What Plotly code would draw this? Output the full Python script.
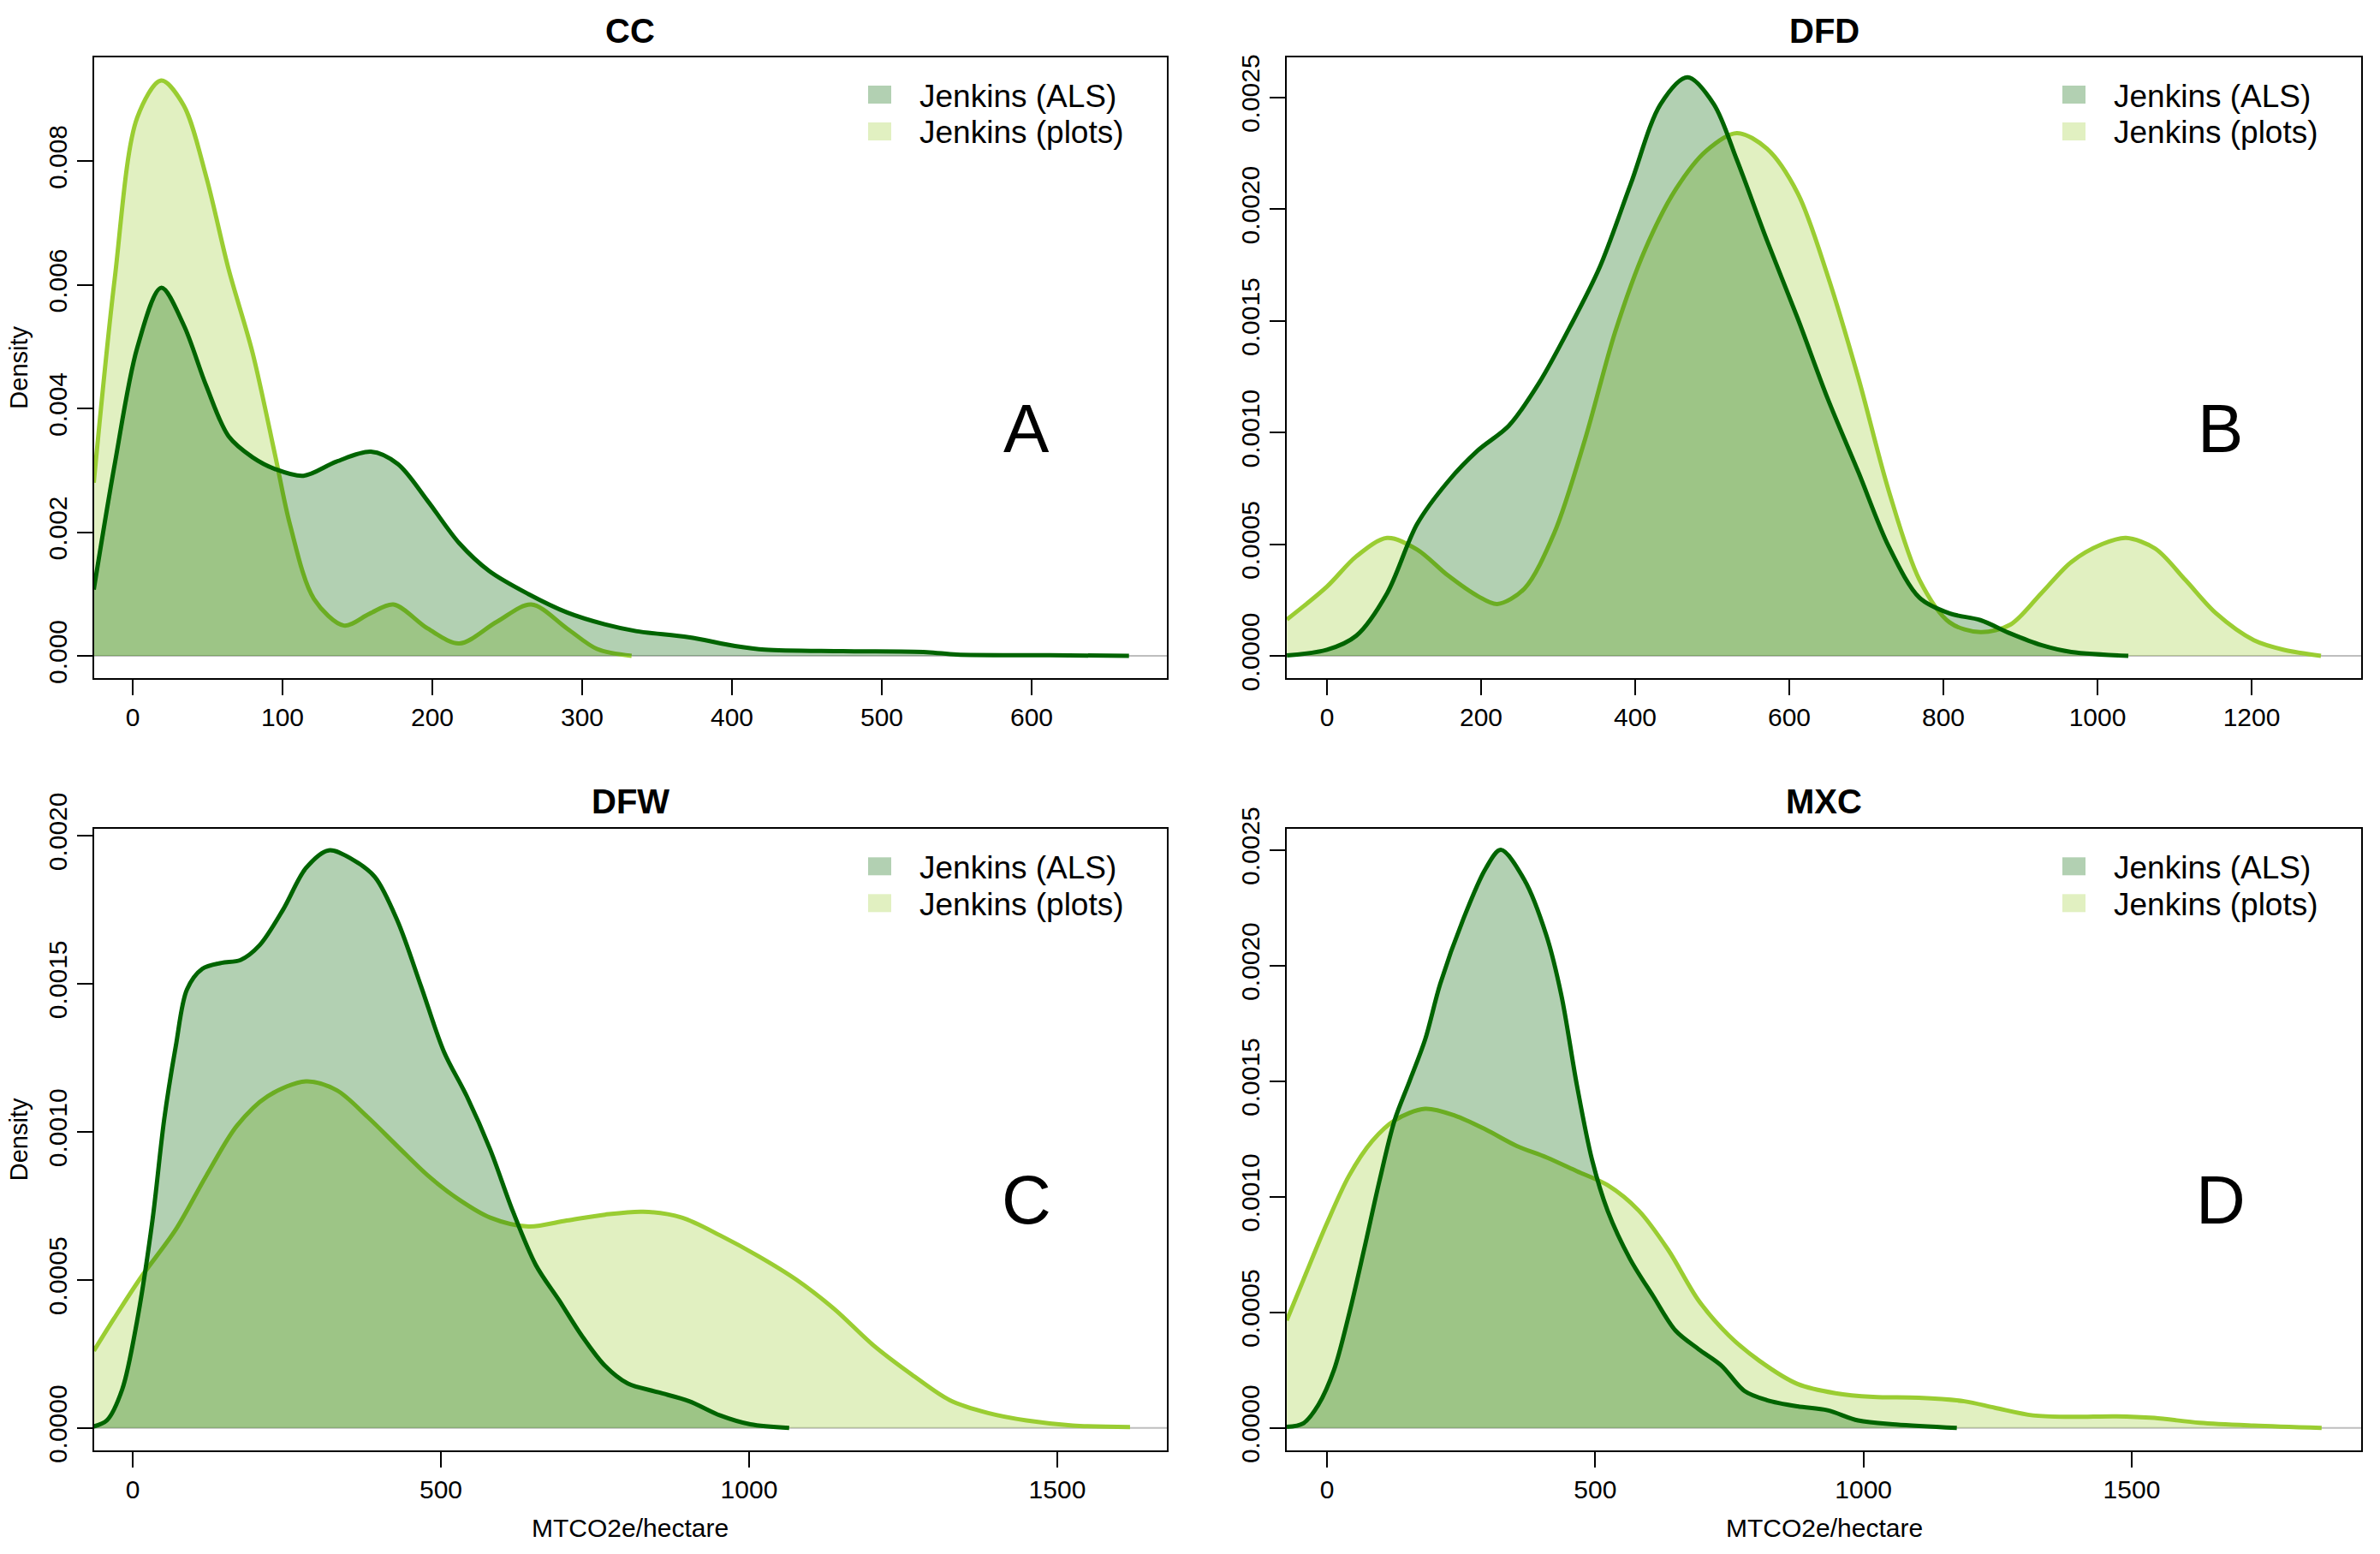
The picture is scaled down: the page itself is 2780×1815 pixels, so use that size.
import plotly.graph_objects as go

W, H = 2780, 1815

# ---------------- data ----------------
panel_titles = ["CC", "DFD", "DFW", "MXC"]
panel_letters = ["A", "B", "C", "D"]
series_names = ["Jenkins (ALS)", "Jenkins (plots)"]

# CC
cc_plots_x = [-26, -12, 3, 19, 34, 49, 64, 80, 95, 105, 121, 141, 158, 174, 197, 218, 243, 266, 290, 310, 333]
cc_plots_y = [0.0028, 0.0061, 0.0087, 0.0093, 0.0089, 0.00775, 0.00625, 0.0049, 0.00325, 0.00212, 0.00092,
              0.00049, 0.00068, 0.00083, 0.00044, 0.0002, 0.00055, 0.00083, 0.00044, 0.00011, 0.0]
cc_als_x = [-26, -12, 3, 19, 34, 49, 64, 80, 95, 114, 136, 159, 177, 197, 218, 238, 264, 290, 315, 336,
            371, 402, 422, 474, 530, 550, 612, 665]
cc_als_y = [0.00107, 0.0031, 0.00498, 0.00595, 0.00535, 0.00437, 0.00355, 0.00321, 0.00302, 0.00291,
            0.00314, 0.0033, 0.0031, 0.0025, 0.00182, 0.00137, 0.001, 0.0007, 0.00051, 0.0004,
            0.0003, 0.00016, 0.0001, 0.000075, 0.00006, 0.00002, 0.00001, 0.0]

# DFD
dfd_plots_x = [-52, 0, 38, 78, 117, 157, 196, 221, 256, 295, 335, 374, 413, 453, 492, 532, 571, 611, 650,
               690, 729, 769, 808, 848, 887, 927, 966, 1006, 1037, 1075, 1114, 1154, 1203, 1242, 1290]
dfd_plots_y = [0.000163, 0.00031, 0.000445, 0.000528, 0.000476, 0.00036, 0.000267, 0.000232, 0.0003,
               0.00055, 0.00097, 0.00145, 0.00182, 0.00209, 0.00226, 0.00234, 0.00227, 0.00207, 0.0017,
               0.00124, 0.00074, 0.00034, 0.00015, 0.000106, 0.00014, 0.00028, 0.00042, 0.0005,
               0.000528, 0.00048, 0.00034, 0.00019, 0.00007, 0.000027, 0.0]
dfd_als_x = [-52, 0, 38, 78, 117, 157, 196, 236, 275, 315, 354, 394, 433, 468, 502, 532, 571, 611, 650,
             690, 729, 769, 808, 848, 887, 927, 966, 1040]
dfd_als_y = [0.000002, 0.000027, 0.00009, 0.00028, 0.00059, 0.00078, 0.00092, 0.00103, 0.00122, 0.00147,
             0.00174, 0.00211, 0.00247, 0.00259, 0.00247, 0.00222, 0.00186, 0.00151, 0.00115, 0.00082,
             0.00049, 0.00026, 0.00019, 0.00016, 0.0001, 0.000048, 0.000017, 0.0]

# DFW
dfw_plots_x = [-63, -30, 14, 70, 119, 169, 219, 281, 331, 381, 430, 480, 530, 580, 642, 704, 766, 828,
               891, 953, 1015, 1077, 1139, 1201, 1264, 1326, 1388, 1450, 1525, 1618]
dfw_plots_y = [0.00026, 0.00037, 0.00051, 0.00067, 0.00085, 0.00102, 0.00112, 0.00117, 0.00114, 0.00105,
               0.00095, 0.00085, 0.00077, 0.00071, 0.00068, 0.0007, 0.00072, 0.00073, 0.00071, 0.00065,
               0.00058, 0.0005, 0.0004, 0.00028, 0.00018, 0.000093, 0.00005, 0.000025, 0.000008, 0.000003]
dfw_als_x = [-63, -42, -17, 7, 32, 51, 70, 88, 113, 144, 175, 206, 244, 281, 318, 356, 393, 430, 468,
             505, 542, 580, 617, 654, 692, 729, 766, 803, 853, 903, 953, 1002, 1065]
dfw_als_y = [0.000005, 0.000025, 0.00013, 0.00036, 0.0007, 0.00104, 0.00129, 0.00148, 0.00155, 0.00157,
             0.00158, 0.00163, 0.00175, 0.00189, 0.00195, 0.00192, 0.00186, 0.00171, 0.00149, 0.00127,
             0.00112, 0.00094, 0.00073, 0.00055, 0.00043, 0.00031, 0.00021, 0.00015, 0.00012, 0.00009,
             0.000042, 0.000012, 0.0]

# MXC
mxc_plots_x = [-75, -44, -1, 41, 84, 126, 183, 239, 296, 353, 409, 466, 523, 581, 636, 693, 749, 806,
               877, 948, 1018, 1103, 1188, 1245, 1316, 1387, 1472, 1542, 1627, 1727, 1854]
mxc_plots_y = [0.000465, 0.00064, 0.00088, 0.00109, 0.00124, 0.00133, 0.00138, 0.00135, 0.00129, 0.00122,
               0.00117, 0.00111, 0.00105, 0.00094, 0.00077, 0.00055, 0.0004, 0.00029, 0.00019, 0.00015,
               0.000134, 0.00013, 0.000115, 0.000087, 0.000054, 0.000048, 0.00005, 0.000043, 0.000022,
               0.00001, 0.0]
mxc_als_x = [-75, -44, -16, 13, 41, 69, 98, 126, 154, 183, 211, 254, 296, 324, 368, 409, 437, 466, 494,
             523, 565, 608, 650, 693, 735, 778, 820, 877, 933, 990, 1061, 1174]
mxc_als_y = [0.000004, 0.00002, 0.0001, 0.00025, 0.00049, 0.00077, 0.00107, 0.00133, 0.0015, 0.00168,
             0.00192, 0.0022, 0.00242, 0.0025, 0.00237, 0.00213, 0.00187, 0.00148, 0.00116, 0.00094,
             0.00073, 0.00057, 0.00042, 0.00034, 0.00027, 0.00016, 0.00012, 0.000093, 0.000076,
             0.000032, 0.000015, 0.0]

# tick values
cc_xticks = [0, 100, 200, 300, 400, 500, 600]
cc_yticks = [0.000, 0.002, 0.004, 0.006, 0.008]
dfd_xticks = [0, 200, 400, 600, 800, 1000, 1200]
dfd_yticks = [0.0, 0.0005, 0.0010, 0.0015, 0.0020, 0.0025]
dfw_xticks = [0, 500, 1000, 1500]
dfw_yticks = [0.0, 0.0005, 0.0010, 0.0015, 0.0020]
mxc_xticks = [0, 500, 1000, 1500]
mxc_yticks = [0.0, 0.0005, 0.0010, 0.0015, 0.0020, 0.0025]

x_label = "MTCO2e/hectare"
y_label = "Density"

# ---------------- layout / style ----------------
FONT = "Liberation Sans, Arial, sans-serif"
ALS_LINE = "#006400"
ALS_FILL = "rgba(0,100,0,0.3)"
PLOTS_LINE = "#9ACD32"
PLOTS_FILL = "rgba(154,205,50,0.3)"

# panel boxes in pixels (left, right, top, bottom), axis ranges
boxes = [
    (109.7, 1363, 67, 792.3),
    (1503, 2758, 67, 792.3),
    (109.7, 1363, 968.3, 1694.3),
    (1503, 2758, 968.3, 1694.3),
]
xranges = [[-25.9, 690.3], [-52.2, 1342.2], [-62.9, 1677.8], [-75.0, 1927.7]]
yranges = [[-0.000364, 0.009675], [-0.0001008, 0.002679], [-0.0000769, 0.002022], [-0.0000985, 0.00259]]
yfmts = [".3f", ".4f", ".4f", ".4f"]

data = [
    (cc_als_x, cc_als_y, cc_plots_x, cc_plots_y, cc_xticks, cc_yticks),
    (dfd_als_x, dfd_als_y, dfd_plots_x, dfd_plots_y, dfd_xticks, dfd_yticks),
    (dfw_als_x, dfw_als_y, dfw_plots_x, dfw_plots_y, dfw_xticks, dfw_yticks),
    (mxc_als_x, mxc_als_y, mxc_plots_x, mxc_plots_y, mxc_xticks, mxc_yticks),
]


def px(v):
    return v / W


def py(v):
    return 1 - v / H


fig = go.Figure()
annotations = []
shapes = []

for i, (ax_x, ax_y, pl_x, pl_y, xt, yt) in enumerate(data):
    n = "" if i == 0 else str(i + 1)
    L, R, T, B = boxes[i]
    xa, ya = "x" + n, "y" + n
    # plots first, then ALS over it
    fig.add_trace(go.Scatter(x=pl_x, y=pl_y, xaxis=xa, yaxis=ya, mode="lines",
                             line=dict(color=PLOTS_LINE, width=5, shape="spline", smoothing=0.9),
                             fill="tozeroy", fillcolor=PLOTS_FILL, showlegend=False,
                             name=series_names[1]))
    fig.add_trace(go.Scatter(x=ax_x, y=ax_y, xaxis=xa, yaxis=ya, mode="lines",
                             line=dict(color=ALS_LINE, width=5, shape="spline", smoothing=0.9),
                             fill="tozeroy", fillcolor=ALS_FILL, showlegend=False,
                             name=series_names[0]))
    axcommon = dict(showline=True, mirror=True, linecolor="black", linewidth=2,
                    ticks="outside", ticklen=18, tickwidth=2, tickcolor="black",
                    showgrid=False, zeroline=False, automargin=False,
                    tickfont=dict(family=FONT, size=30, color="black"))
    fig.layout["xaxis" + n] = dict(domain=[px(L), px(R)], range=xranges[i], anchor=ya,
                                   tickvals=xt, ticktext=[str(v) for v in xt], **axcommon)
    fig.layout["yaxis" + n] = dict(domain=[py(B), py(T)], range=yranges[i], anchor=xa,
                                   tickvals=yt, tickformat=yfmts[i], tickangle=-90, **axcommon)
    # zero line
    shapes.append(dict(type="line", xref=xa + " domain", yref=ya, x0=0, x1=1, y0=0, y1=0,
                       line=dict(color="#bebebe", width=2), layer="below"))
    # title
    top_title_y = 36 if i < 2 else 936
    annotations.append(dict(text="<b>" + panel_titles[i] + "</b>", x=px((L + R) / 2), y=py(top_title_y),
                            xref="paper", yref="paper", showarrow=False,
                            font=dict(family=FONT, size=40, color="black"),
                            xanchor="center", yanchor="middle"))
    # letter
    annotations.append(dict(text=panel_letters[i], x=px(L + 0.869 * (R - L)), y=py(T + 433),
                            xref="paper", yref="paper", showarrow=False,
                            font=dict(family=FONT, size=80, color="black"),
                            xanchor="center", yanchor="middle"))
    # legend
    for k, (lab, col) in enumerate([(series_names[0], ALS_FILL), (series_names[1], PLOTS_FILL)]):
        y0 = T + 33 + k * 43
        shapes.append(dict(type="rect", xref="paper", yref="paper",
                           x0=px(R - 349), x1=px(R - 322), y0=py(y0 + 21), y1=py(y0),
                           fillcolor=col, line=dict(width=0)))
        annotations.append(dict(text=lab, x=px(R - 291), y=py(y0 + 12), xref="paper", yref="paper",
                                showarrow=False, font=dict(family=FONT, size=37, color="black"),
                                xanchor="left", yanchor="middle"))
    # axis labels
    if i >= 2:
        annotations.append(dict(text=x_label, x=px((L + R) / 2), y=py(1784), xref="paper", yref="paper",
                                showarrow=False, font=dict(family=FONT, size=30, color="black"),
                                xanchor="center", yanchor="middle"))
    if i % 2 == 0:
        annotations.append(dict(text=y_label, x=px(22), y=py((T + B) / 2), xref="paper", yref="paper",
                                showarrow=False, textangle=-90,
                                font=dict(family=FONT, size=29, color="black"),
                                xanchor="center", yanchor="middle"))

fig.update_layout(width=W, height=H, autosize=False,
                  margin=dict(l=0, r=0, t=0, b=0, pad=0),
                  paper_bgcolor="white", plot_bgcolor="white",
                  annotations=annotations, shapes=shapes, showlegend=False)

fig.write_html("out.html", config={"displayModeBar": False},
               post_script="document.body.style.margin='0px';")
